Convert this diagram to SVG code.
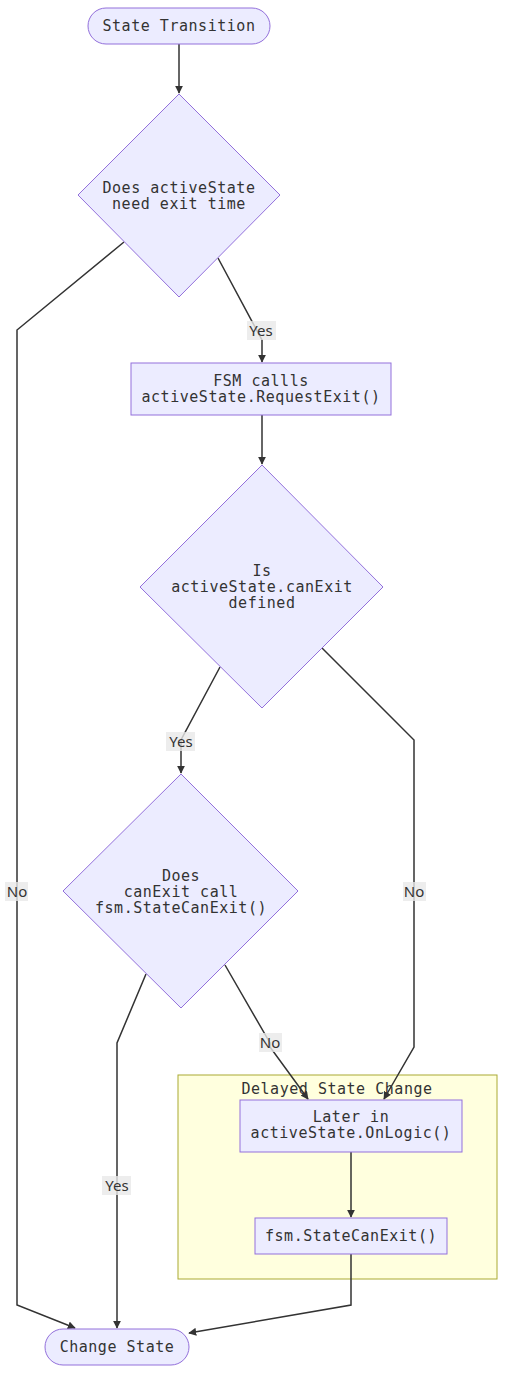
<svg xmlns="http://www.w3.org/2000/svg" width="505" height="1373" viewBox="0 0 505 1373">
<style>
.node{fill:#ECECFF;stroke:#9370DB;stroke-width:1}
.t{font-family:"DejaVu Sans Mono","Liberation Mono",monospace;font-size:15px;letter-spacing:0.53px;fill:#333;text-anchor:middle;dominant-baseline:central}
.e{fill:none;stroke:#333;stroke-width:1.5}
.lb{fill:#e8e8e8;opacity:0.8}
.lt{font-family:"Noto Sans","Open Sans",sans-serif;font-size:15px;fill:#333;text-anchor:middle;dominant-baseline:central}
.cl{fill:#ffffde;stroke:#aaaa33;stroke-width:1}
</style>
<defs>
<marker id="arr" viewBox="0 0 10 10" refX="9" refY="5" markerWidth="8" markerHeight="8" markerUnits="userSpaceOnUse" orient="auto">
<path d="M0,0 L10,5 L0,10 z" fill="#333"/>
</marker>
</defs>
<g id="cluster">
<rect class="cl" x="178" y="1075" width="319" height="204"/>
<text class="t" x="337" y="1089">Delayed State Change</text>
</g>
<g id="edges">
<path class="e" d="M179,44 L179,93" marker-end="url(#arr)"/>
<path class="e" d="M124,242 L17,330 L17,1305 L75,1328" marker-end="url(#arr)"/>
<path class="e" d="M218,258 L262,340 L262,362" marker-end="url(#arr)"/>
<path class="e" d="M262,415 L262,464" marker-end="url(#arr)"/>
<path class="e" d="M220,667 L181,740 L181,773" marker-end="url(#arr)"/>
<path class="e" d="M322,648 L414,740 L414,1047 L384,1099" marker-end="url(#arr)"/>
<path class="e" d="M146,974 L117,1043 L117,1328" marker-end="url(#arr)"/>
<path class="e" d="M225,965 L270,1043 L270,1047 L308,1099" marker-end="url(#arr)"/>
<path class="e" d="M351,1152 L351,1217" marker-end="url(#arr)"/>
<path class="e" d="M351,1254 L351,1305 L189,1333" marker-end="url(#arr)"/>
</g>
<g id="edge-labels">
<rect class="lb" x="5" y="882" width="23" height="19"/>
<text class="lt" x="17" y="891">No</text>
<rect class="lb" x="247" y="321" width="29" height="19"/>
<text class="lt" x="261" y="330">Yes</text>
<rect class="lb" x="166" y="732" width="29" height="19"/>
<text class="lt" x="181" y="741">Yes</text>
<rect class="lb" x="403" y="882" width="23" height="19"/>
<text class="lt" x="414" y="891">No</text>
<rect class="lb" x="102" y="1176" width="29" height="19"/>
<text class="lt" x="117" y="1185">Yes</text>
<rect class="lb" x="259" y="1033" width="23" height="19"/>
<text class="lt" x="270" y="1042">No</text>
</g>
<g id="start">
<rect class="node" x="88" y="8" width="182" height="36" rx="18" ry="18"/>
<text class="t" x="179" y="26">State Transition</text>
</g>
<g id="d1">
<polygon class="node" points="179,94 280,195 179,297 78,195"/>
<text class="t" x="179" y="188">Does activeState</text>
<text class="t" x="179" y="204">need exit time</text>
</g>
<g id="req">
<rect class="node" x="131" y="363" width="260" height="52"/>
<text class="t" x="261" y="381">FSM callls</text>
<text class="t" x="261" y="397">activeState.RequestExit()</text>
</g>
<g id="d2">
<polygon class="node" points="262,465 383,587 262,708 140,587"/>
<text class="t" x="262" y="571">Is</text>
<text class="t" x="262" y="587">activeState.canExit</text>
<text class="t" x="262" y="603">defined</text>
</g>
<g id="d3">
<polygon class="node" points="181,774 298,891 181,1008 63,891"/>
<text class="t" x="181" y="876">Does</text>
<text class="t" x="181" y="892">canExit call</text>
<text class="t" x="181" y="908">fsm.StateCanExit()</text>
</g>
<g id="later">
<rect class="node" x="240" y="1100" width="222" height="52"/>
<text class="t" x="351" y="1117">Later in</text>
<text class="t" x="351" y="1133">activeState.OnLogic()</text>
</g>
<g id="canexit">
<rect class="node" x="255" y="1218" width="192" height="36"/>
<text class="t" x="351" y="1236">fsm.StateCanExit()</text>
</g>
<g id="change">
<rect class="node" x="45" y="1329" width="144" height="36" rx="18" ry="18"/>
<text class="t" x="117" y="1347">Change State</text>
</g>
</svg>
